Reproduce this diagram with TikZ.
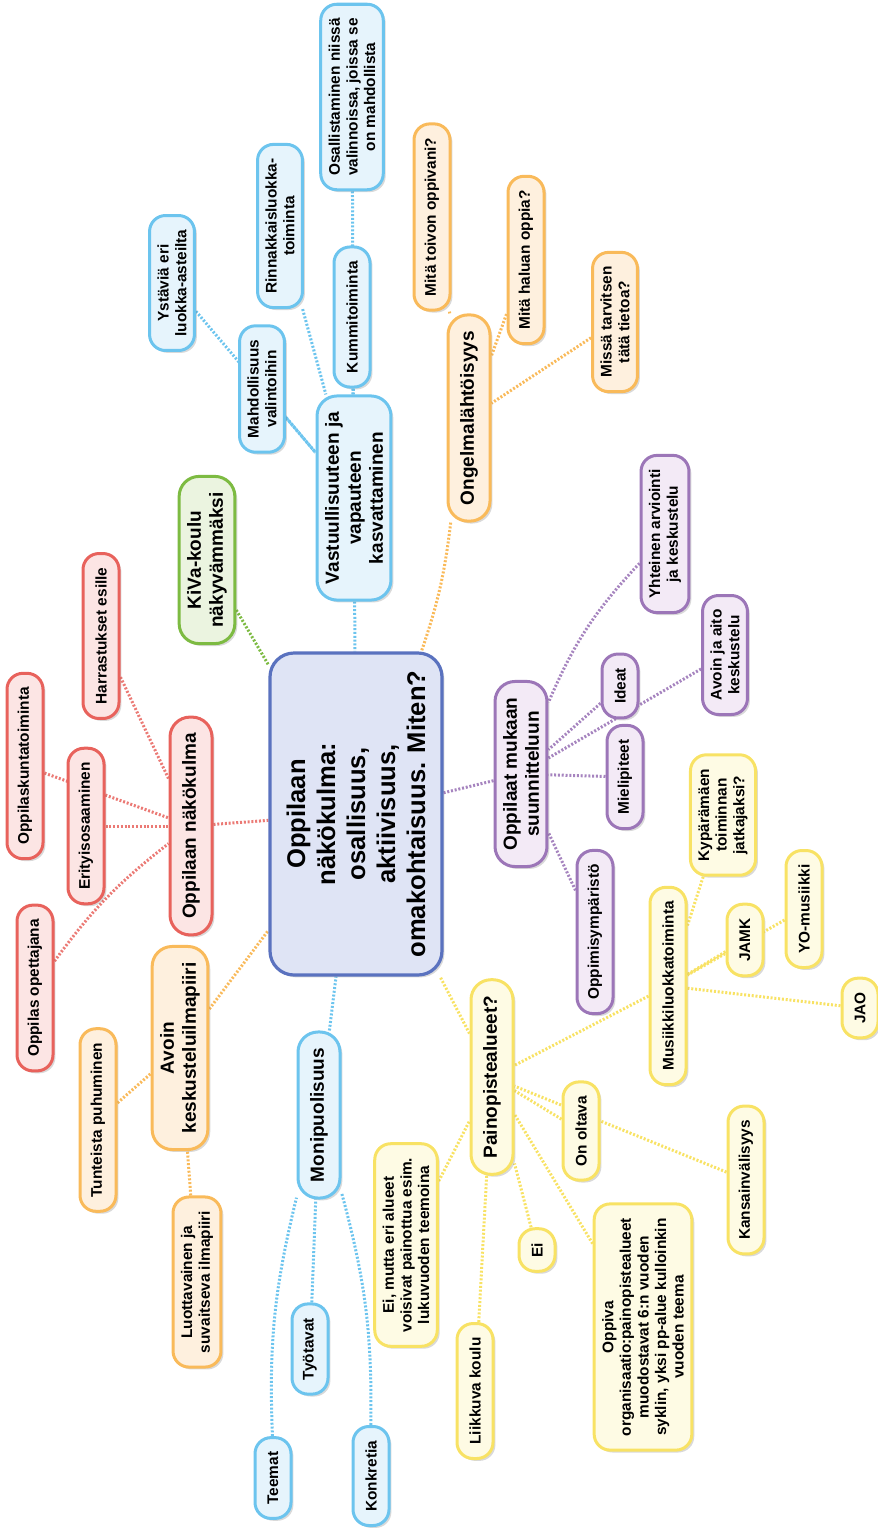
\documentclass[tikz,border=0pt]{standalone}
\usepackage{fontspec}
\setmainfont{Liberation Sans}
\usetikzlibrary{shadows,backgrounds}
\definecolor{hubB}{HTML}{5A72BF}
\definecolor{hubF}{HTML}{DFE4F5}
\definecolor{redB}{HTML}{E8625C}
\definecolor{redF}{HTML}{FCE5E4}
\definecolor{greenB}{HTML}{7DBB42}
\definecolor{greenF}{HTML}{EBF4E0}
\definecolor{blueB}{HTML}{6CC4EE}
\definecolor{blueF}{HTML}{E6F4FC}
\definecolor{orangeB}{HTML}{F9BA5A}
\definecolor{orangeF}{HTML}{FEF0DE}
\definecolor{purpleB}{HTML}{9C76B8}
\definecolor{purpleF}{HTML}{F3EAF6}
\definecolor{yellowB}{HTML}{F8E264}
\definecolor{yellowF}{HTML}{FEFBE4}
\begin{document}
\begin{tikzpicture}[x=0.5pt,y=-0.5pt]
    \tikzstyle{shade}=[drop shadow={shadow xshift=1.2pt,shadow yshift=-1.2pt,opacity=.25,fill=black!60}]
    \tikzstyle{leaf}=[rotate=90,shade,rounded corners=8pt,line width=1.5pt,align=center,
        font=\bfseries\fontsize{7.7}{8.8}\selectfont,inner xsep=7pt,inner ysep=4pt,minimum height=18pt]
    \tikzstyle{topic}=[leaf,rounded corners=10pt,font=\bfseries\fontsize{9.5}{11}\selectfont,
        inner xsep=8pt,minimum height=21pt]
    \tikzstyle{hub}=[rotate=90,shade,rounded corners=12pt,line width=1.6pt,align=center,
        font=\bfseries\fontsize{12.8}{15}\selectfont,minimum width=161pt,minimum height=86pt,
        draw=hubB,fill=hubF]
    \tikzstyle{redbox}=[draw=redB,fill=redF]
    \tikzstyle{greenbox}=[draw=greenB,fill=greenF]
    \tikzstyle{bluebox}=[draw=blueB,fill=blueF]
    \tikzstyle{orangebox}=[draw=orangeB,fill=orangeF]
    \tikzstyle{purplebox}=[draw=purpleB,fill=purpleF]
    \tikzstyle{yellowbox}=[draw=yellowB,fill=yellowF]
    \tikzstyle{link}=[line width=1.5pt,dash pattern=on 1pt off 0.9pt]
    \useasboundingbox (0,0) rectangle (878,1537);
    % centre
    \node[hub] (c) at (356,814) {Oppilaan\\näkökulma:\\osallisuus,\\aktiivisuus,\\omakohtaisuus. Miten?};
    % red
    \node[topic,redbox] (on) at (191,826) {Oppilaan näkökulma};
    \node[leaf,redbox] (r1) at (25,766) {Oppilaskuntatoiminta};
    \node[leaf,redbox] (r2) at (86,826) {Erityisosaaminen};
    \node[leaf,redbox] (r3) at (101,636) {Harrastukset esille};
    \node[leaf,redbox] (r4) at (35,988) {Oppilas opettajana};
    % green
    \node[topic,greenbox] (kv) at (207,560) {KiVa-koulu\\näkyvämmäksi};
    % blue, top
    \node[topic,bluebox] (v) at (354,498) {Vastuullisuuteen ja\\vapauteen\\kasvattaminen};
    \node[leaf,bluebox] (v1) at (262,389) {Mahdollisuus\\valintoihin};
    \node[leaf,bluebox] (v2) at (172,283) {Ystäviä eri\\luokka-asteilta};
    \node[leaf,bluebox] (v3) at (280,226) {Rinnakkaisluokka-\\toiminta};
    \node[leaf,bluebox] (v4) at (352,317) {Kummitoiminta};
    \node[leaf,bluebox] (v5) at (352,97) {Osallistaminen niissä\\valinnoissa, joissa se\\on mahdollista};
    % orange, top
    \node[topic,orangebox] (o) at (469,418) {Ongelmalähtöisyys};
    \node[leaf,orangebox] (o1) at (432,217) {Mitä toivon oppivani?};
    \node[leaf,orangebox] (o2) at (526,260) {Mitä haluan oppia?};
    \node[leaf,orangebox] (o3) at (615,322) {Missä tarvitsen\\tätä tietoa?};
    % purple
    \node[topic,purplebox] (p) at (521,774) {Oppilaat mukaan\\suunnitteluun};
    \node[leaf,purplebox] (p1) at (665,534) {Yhteinen arviointi\\ja keskustelu};
    \node[leaf,purplebox] (p2) at (620,686) {Ideat};
    \node[leaf,purplebox] (p3) at (725,655) {Avoin ja aito\\keskustelu};
    \node[leaf,purplebox] (p4) at (625,777) {Mielipiteet};
    \node[leaf,purplebox] (p5) at (595,932) {Oppimisympäristö};
    % yellow
    \node[topic,yellowbox] (y) at (492,1077) {Painopistealueet?};
    \node[leaf,yellowbox] (y1) at (668,986) {Musiikkiluokkatoiminta};
    \node[leaf,yellowbox] (y2) at (723,815) {Kypärämäen\\toiminnan\\jatkajaksi?};
    \node[leaf,yellowbox] (y3) at (745,940) {JAMK};
    \node[leaf,yellowbox] (y4) at (804,909) {YO-musiikki};
    \node[leaf,yellowbox] (y5) at (860,1008) {JAO};
    \node[leaf,yellowbox] (y6) at (581,1131) {On oltava};
    \node[leaf,yellowbox] (y7) at (746,1180) {Kansainvälisyys};
    \node[leaf,yellowbox] (y8) at (643,1327) {Oppiva\\organisaatio:painopistealueet\\muodostavat 6:n vuoden\\syklin, yksi pp-alue kulloinkin\\vuoden teema};
    \node[leaf,yellowbox] (y9) at (537,1250) {Ei};
    \node[leaf,yellowbox] (y10) at (475,1391) {Liikkuva koulu};
    \node[leaf,yellowbox] (y11) at (406,1245) {Ei, mutta eri alueet\\voisivat painottua esim.\\lukuvuoden teemoina};
    % orange, bottom
    \node[topic,orangebox] (a) at (180,1048) {Avoin\\keskusteluilmapiiri};
    \node[leaf,orangebox] (a1) at (98,1120) {Tunteista puhuminen};
    \node[leaf,orangebox] (a2) at (197,1282) {Luottavainen ja\\suvaitseva ilmapiiri};
    % blue, bottom
    \node[topic,bluebox] (m) at (319,1115) {Monipuolisuus};
    \node[leaf,bluebox] (m1) at (273,1478) {Teemat};
    \node[leaf,bluebox] (m2) at (310,1349) {Työtavat};
    \node[leaf,bluebox] (m3) at (371,1476) {Konkretia};
    \begin{scope}[on background layer]
    \foreach \a/\b in {on/c,r1/on,r2/on,r3/on}
        \draw[link,redB!85] (\a) -- (\b);
    \draw[link,redB!85] (r4) to[bend left=8] (on);
    \draw[link,greenB] (kv) -- (c);
    \foreach \a/\b in {v/c,v1/v,v2/v,v3/v,v4/v,v5/v,m/c,m2/m}
        \draw[link,blueB] (\a) -- (\b);
    \draw[link,blueB] (m1) to[bend left=8] (m);
    \draw[link,blueB] (m3) to[bend right=8] (m);
    \foreach \a/\b in {o1/o,o2/o,o3/o,a/c,a1/a,a2/a}
        \draw[link,orangeB] (\a) -- (\b);
    \draw[link,orangeB] (o) to[bend left=6] (c);
    \foreach \a/\b in {p/c,p2/p,p3/p,p4/p,p5/p}
        \draw[link,purpleB!90] (\a) -- (\b);
    \draw[link,purpleB!90] (p1) to[bend right=10] (p);
    \foreach \a/\b in {y/c,y1/y,y2/y1,y3/y1,y4/y1,y5/y1,y6/y,y7/y,y8/y,y9/y,y10/y,y11/y}
        \draw[link,yellowB] (\a) -- (\b);
    \end{scope}
\end{tikzpicture}
\end{document}
